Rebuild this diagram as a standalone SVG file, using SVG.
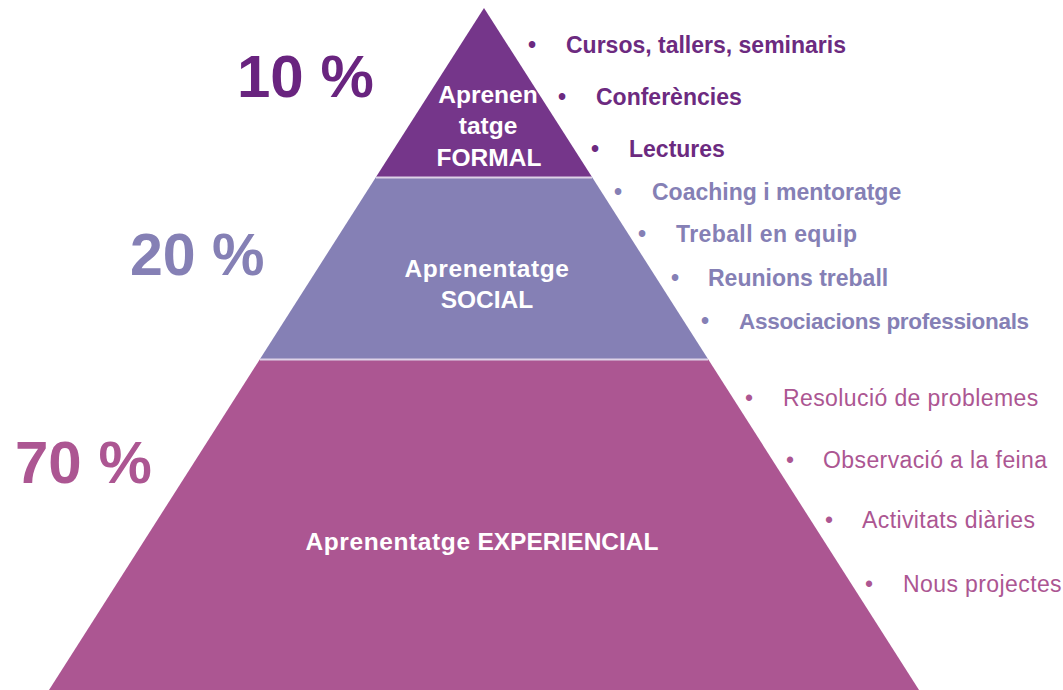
<svg xmlns="http://www.w3.org/2000/svg" width="1063" height="690" viewBox="0 0 1063 690">
<style>
text{font-family:"Liberation Sans",Arial,sans-serif}
.lbl{fill:#ffffff;font-weight:bold;font-size:24.5px;text-anchor:middle}
.pct{font-weight:bold;font-size:60px}
.b1{fill:#6C2A80;font-weight:bold;font-size:23px}
.b2{fill:#8580B5;font-weight:bold;font-size:23px}
.b3{fill:#AC5692;font-size:23px;letter-spacing:0.4px}
.sep{stroke:#DDD2E7;stroke-width:2.2}
</style>
<rect width="1063" height="690" fill="#ffffff"/>
<g id="tier-formal">
<polygon points="484,8 592,177 376,177" fill="#75368A"/>
<text class="lbl" x="488" y="103">Aprenen</text>
<text class="lbl" x="488" y="134">tatge</text>
<text class="lbl" x="489" y="166">FORMAL</text>
</g>
<g id="tier-social">
<polygon points="376,177 592,177 708,359 260,359" fill="#8580B5"/>
<text class="lbl" x="487" y="277" style="letter-spacing:0.6px">Aprenentatge</text>
<text class="lbl" x="487" y="308">SOCIAL</text>
</g>
<g id="tier-experiencial">
<polygon points="260,359 708,359 919,690 49,690" fill="#AC5692"/>
<text class="lbl" x="482" y="550"><tspan style="letter-spacing:0.6px">Aprenentatge</tspan> EXPERIENCIAL</text>
</g>
<g id="separators">
<line class="sep" x1="376" y1="177.5" x2="592" y2="177.5"/>
<line class="sep" x1="260" y1="359.5" x2="708" y2="359.5"/>
</g>
<g id="percentages">
<text class="pct" x="237" y="97" fill="#69247F">10 %</text>
<text class="pct" x="130" y="275" fill="#8580B5" style="font-size:59px">20 %</text>
<text class="pct" x="15" y="483" fill="#AC5692">70 %</text>
</g>
<g id="list-formal">
<text class="b1" x="528" y="53">•</text><text class="b1" x="566" y="53">Cursos, tallers, seminaris</text>
<text class="b1" x="558" y="105">•</text><text class="b1" x="596" y="105">Conferències</text>
<text class="b1" x="591" y="157">•</text><text class="b1" x="629" y="157">Lectures</text>
</g>
<g id="list-social">
<text class="b2" x="614" y="200">•</text><text class="b2" x="652" y="200">Coaching i mentoratge</text>
<text class="b2" x="638" y="242">•</text><text class="b2" x="676" y="242" style="letter-spacing:0.4px">Treball en equip</text>
<text class="b2" x="671" y="286">•</text><text class="b2" x="708" y="286">Reunions treball</text>
<text class="b2" x="701" y="329">•</text><text class="b2" x="739" y="329" style="font-size:22.5px;letter-spacing:-0.3px">Associacions professionals</text>
</g>
<g id="list-experiencial">
<text class="b3" x="745" y="406">•</text><text class="b3" x="783" y="406">Resolució de problemes</text>
<text class="b3" x="786" y="468">•</text><text class="b3" x="823" y="468">Observació a la feina</text>
<text class="b3" x="825" y="528">•</text><text class="b3" x="862" y="528">Activitats diàries</text>
<text class="b3" x="865" y="592">•</text><text class="b3" x="903" y="592">Nous projectes</text>
</g>
</svg>
